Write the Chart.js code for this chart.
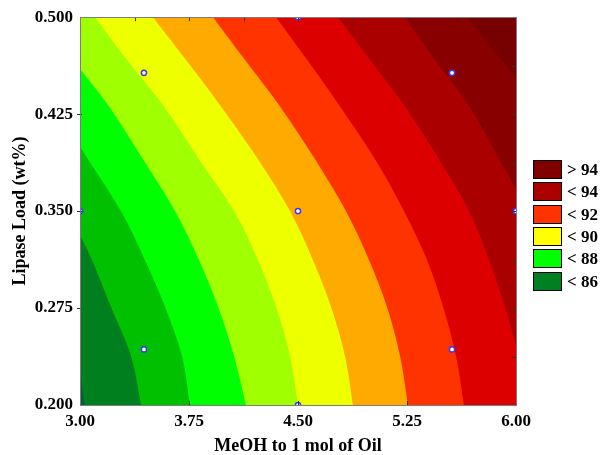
<!DOCTYPE html>
<html>
<head>
<meta charset="utf-8">
<script src="https://cdn.jsdelivr.net/npm/chart.js@4.4.1/dist/chart.umd.min.js"></script>
<style>
  html, body { margin: 0; padding: 0; background: #fff; }
</style>
</head>
<body>
<canvas id="chart" width="603" height="455"></canvas>
<script>
// Axis ticks
const xTicks = [3.00, 3.75, 4.50, 5.25, 6.00];
const yTicks = [0.200, 0.275, 0.350, 0.425, 0.500];
const xTopTicks = [3.375, 3.75, 4.125, 4.5, 4.875, 5.25, 5.625];
const yRightTicks = [0.2375, 0.275, 0.3125, 0.35, 0.3875, 0.425, 0.4625];

// Experimental runs (MeOH ratio, lipase load)
const runMeoh = [4.50, 3.44, 5.56, 3.00, 4.50, 6.00, 3.44, 5.56, 4.50];
const runLipase = [0.500, 0.457, 0.457, 0.350, 0.350, 0.350, 0.243, 0.243, 0.200];

// Fill colours, lowest yield first
const bandColors = ['#005f3c', '#007f1f', '#00c000', '#00ff00', '#a0ff00', '#eeff00',
                    '#ffaa00', '#ff3300', '#dd0000', '#aa0000', '#880000', '#770000'];

// Contour lines between neighbouring bands, [MeOH, lipase] pairs
const level1 = [[3.000, 0.228], [3.016, 0.213], [3.032, 0.200]];
const level2 = [[3.000, 0.331], [3.076, 0.314], [3.213, 0.276], [3.351, 0.238], [3.420, 0.200]];
const level3 = [[3.000, 0.400], [3.062, 0.389], [3.282, 0.350], [3.447, 0.312], [3.585, 0.276], [3.702, 0.238], [3.757, 0.200]];
const level4 = [[3.000, 0.460], [3.200, 0.431], [3.440, 0.389], [3.654, 0.350], [3.819, 0.312], [3.950, 0.276], [4.060, 0.238], [4.142, 0.200]];
const level5 = [[3.103, 0.500], [3.337, 0.465], [3.578, 0.431], [3.826, 0.389], [4.060, 0.350], [4.225, 0.312], [4.349, 0.276], [4.445, 0.238], [4.500, 0.200]];
const level6 = [[3.502, 0.500], [3.743, 0.465], [3.970, 0.431], [4.232, 0.389], [4.445, 0.350], [4.603, 0.312], [4.727, 0.276], [4.823, 0.238], [4.878, 0.200]];
const level7 = [[3.915, 0.500], [4.149, 0.465], [4.376, 0.431], [4.624, 0.389], [4.830, 0.350], [4.989, 0.312], [5.112, 0.276], [5.202, 0.238], [5.257, 0.200]];
const level8 = [[4.349, 0.500], [4.576, 0.465], [4.789, 0.431], [5.037, 0.389], [5.229, 0.350], [5.388, 0.312], [5.498, 0.276], [5.587, 0.238], [5.642, 0.200]];
const level9 = [[4.775, 0.500], [5.009, 0.465], [5.236, 0.431], [5.477, 0.389], [5.677, 0.350], [5.815, 0.312], [5.924, 0.276], [6.000, 0.246]];
const level10 = [[5.236, 0.500], [5.455, 0.465], [5.680, 0.431], [5.890, 0.389], [6.000, 0.367]];
const level11 = [[5.661, 0.500], [5.913, 0.465], [6.000, 0.453]];
const levelLines = [level1, level2, level3, level4, level5, level6, level7, level8, level9, level10, level11];

// Legend
const legendLabels = ['> 94', '< 94', '< 92', '< 90', '< 88', '< 86'];
const legendColors = ['#800000', '#aa0000', '#ff3300', '#ffff00', '#00ff00', '#008020'];

const serif = "'Liberation Serif', 'Times New Roman', serif";
const tickFont = { family: serif, size: 17, weight: 'bold' };
const titleFont = { family: serif, size: 18, weight: 'bold', lineHeight: 1 };

// Catmull-Rom curve through the pixel points, appended to the current path
function splineTo(ctx, pts) {
  for (let i = 0; i < pts.length - 1; i++) {
    const p0 = pts[Math.max(i - 1, 0)];
    const p1 = pts[i];
    const p2 = pts[i + 1];
    const p3 = pts[Math.min(i + 2, pts.length - 1)];
    ctx.bezierCurveTo(
      p1[0] + (p2[0] - p0[0]) / 6, p1[1] + (p2[1] - p0[1]) / 6,
      p2[0] - (p3[0] - p1[0]) / 6, p2[1] - (p3[1] - p1[1]) / 6,
      p2[0], p2[1]);
  }
}

// Paints the lowest band, then each higher band over the region above/right of its line
const contourBands = {
  id: 'contourBands',
  beforeDatasetsDraw(chart) {
    const { ctx, chartArea: a, scales: { x, y } } = chart;
    ctx.save();
    ctx.beginPath();
    ctx.rect(a.left, a.top, a.right - a.left, a.bottom - a.top);
    ctx.clip();
    ctx.fillStyle = bandColors[0];
    ctx.fillRect(a.left, a.top, a.right - a.left, a.bottom - a.top);

    levelLines.forEach((line, i) => {
      const pts = line.map(p => [x.getPixelForValue(p[0]), y.getPixelForValue(p[1])]);
      const first = line[0], last = line[line.length - 1];
      const p0 = pts[0], pn = pts[pts.length - 1];
      const startOut = first[1] >= 0.5 ? [p0[0], a.top - 20] : [a.left - 20, p0[1]];
      const endOut = last[1] <= 0.2 ? [pn[0], a.bottom + 20] : [a.right + 20, pn[1]];

      ctx.beginPath();
      ctx.moveTo(startOut[0], startOut[1]);
      ctx.lineTo(p0[0], p0[1]);
      splineTo(ctx, pts);
      ctx.lineTo(endOut[0], endOut[1]);
      ctx.lineTo(a.right + 40, endOut[1]);
      ctx.lineTo(a.right + 40, a.top - 40);
      ctx.lineTo(startOut[0], a.top - 40);
      ctx.closePath();
      ctx.fillStyle = bandColors[i + 1];
      ctx.fill();
    });
    ctx.restore();
  },
  afterDatasetsDraw(chart) {
    const { ctx, chartArea: a, scales: { x, y } } = chart;
    ctx.save();
    ctx.strokeStyle = '#303030';
    ctx.lineWidth = 1;
    ctx.beginPath();
    xTicks.slice(1, -1).forEach(v => {
      const px = Math.round(x.getPixelForValue(v)) + 0.5;
      ctx.moveTo(px, a.bottom); ctx.lineTo(px, a.bottom - 4);
    });
    xTopTicks.forEach(v => {
      const px = Math.round(x.getPixelForValue(v)) + 0.5;
      ctx.moveTo(px, a.top); ctx.lineTo(px, a.top + 4);
    });
    yTicks.slice(1, -1).forEach(v => {
      const py = Math.round(y.getPixelForValue(v)) + 0.5;
      ctx.moveTo(a.left - 3, py); ctx.lineTo(a.left + 2, py);
    });
    yRightTicks.forEach(v => {
      const py = Math.round(y.getPixelForValue(v)) + 0.5;
      ctx.moveTo(a.right, py); ctx.lineTo(a.right - 4, py);
    });
    ctx.stroke();
    ctx.strokeStyle = '#7c7c7c';
    ctx.strokeRect(Math.round(a.left) + 0.5, Math.round(a.top) + 0.5,
                   Math.round(a.right - a.left), Math.round(a.bottom - a.top));
    ctx.restore();
  },
  afterDraw(chart) {
    const { ctx } = chart;
    ctx.save();
    ctx.font = `bold ${tickFont.size}px ${serif}`;
    ctx.textBaseline = 'middle';
    legendLabels.forEach((label, i) => {
      const top = Math.round(160 + i * 22.3) + 0.5;
      ctx.fillStyle = legendColors[i];
      ctx.fillRect(533.5, top, 28, 18);
      ctx.strokeStyle = '#000';
      ctx.lineWidth = 1;
      ctx.strokeRect(533.5, top, 28, 18);
      ctx.fillStyle = '#000';
      ctx.fillText(label, 567, top + 10);
    });
    ctx.restore();
  }
};

new Chart(document.getElementById('chart'), {
  type: 'scatter',
  data: {
    datasets: [{
      data: runMeoh.map((m, i) => ({ x: m, y: runLipase[i] })),
      pointRadius: 2.6,
      pointBackgroundColor: '#ffffff',
      pointBorderColor: '#3a3aff',
      pointBorderWidth: 1.5,
      clip: 0
    }]
  },
  options: {
    responsive: false,
    animation: false,
    layout: { padding: { top: 17, right: 87, left: 0, bottom: 0 } },
    plugins: {
      legend: { display: false },
      tooltip: { enabled: false }
    },
    scales: {
      x: {
        type: 'linear',
        min: 3,
        max: 6,
        afterBuildTicks: s => { s.ticks = xTicks.map(v => ({ value: v })); },
        afterFit: s => { s.height = 50; },
        grid: { display: false, drawTicks: false },
        border: { display: false },
        ticks: {
          callback: v => v.toFixed(2),
          font: tickFont,
          color: '#000',
          padding: 6,
          maxRotation: 0,
          autoSkip: false
        },
        title: {
          display: true,
          text: 'MeOH to 1 mol of Oil',
          font: titleFont,
          color: '#000',
          padding: { top: 0, bottom: 0 }
        }
      },
      y: {
        type: 'linear',
        min: 0.2,
        max: 0.5,
        afterBuildTicks: s => { s.ticks = yTicks.map(v => ({ value: v })); },
        afterFit: s => { s.width = 80; },
        grid: { display: false, drawTicks: false },
        border: { display: false },
        ticks: {
          callback: v => v.toFixed(3),
          font: tickFont,
          color: '#000',
          padding: 7,
          autoSkip: false
        },
        title: {
          display: true,
          text: 'Lipase Load (wt%)',
          font: titleFont,
          color: '#000',
          padding: { top: 11, bottom: 0 }
        }
      }
    }
  },
  plugins: [contourBands]
});
</script>
</body>
</html>
